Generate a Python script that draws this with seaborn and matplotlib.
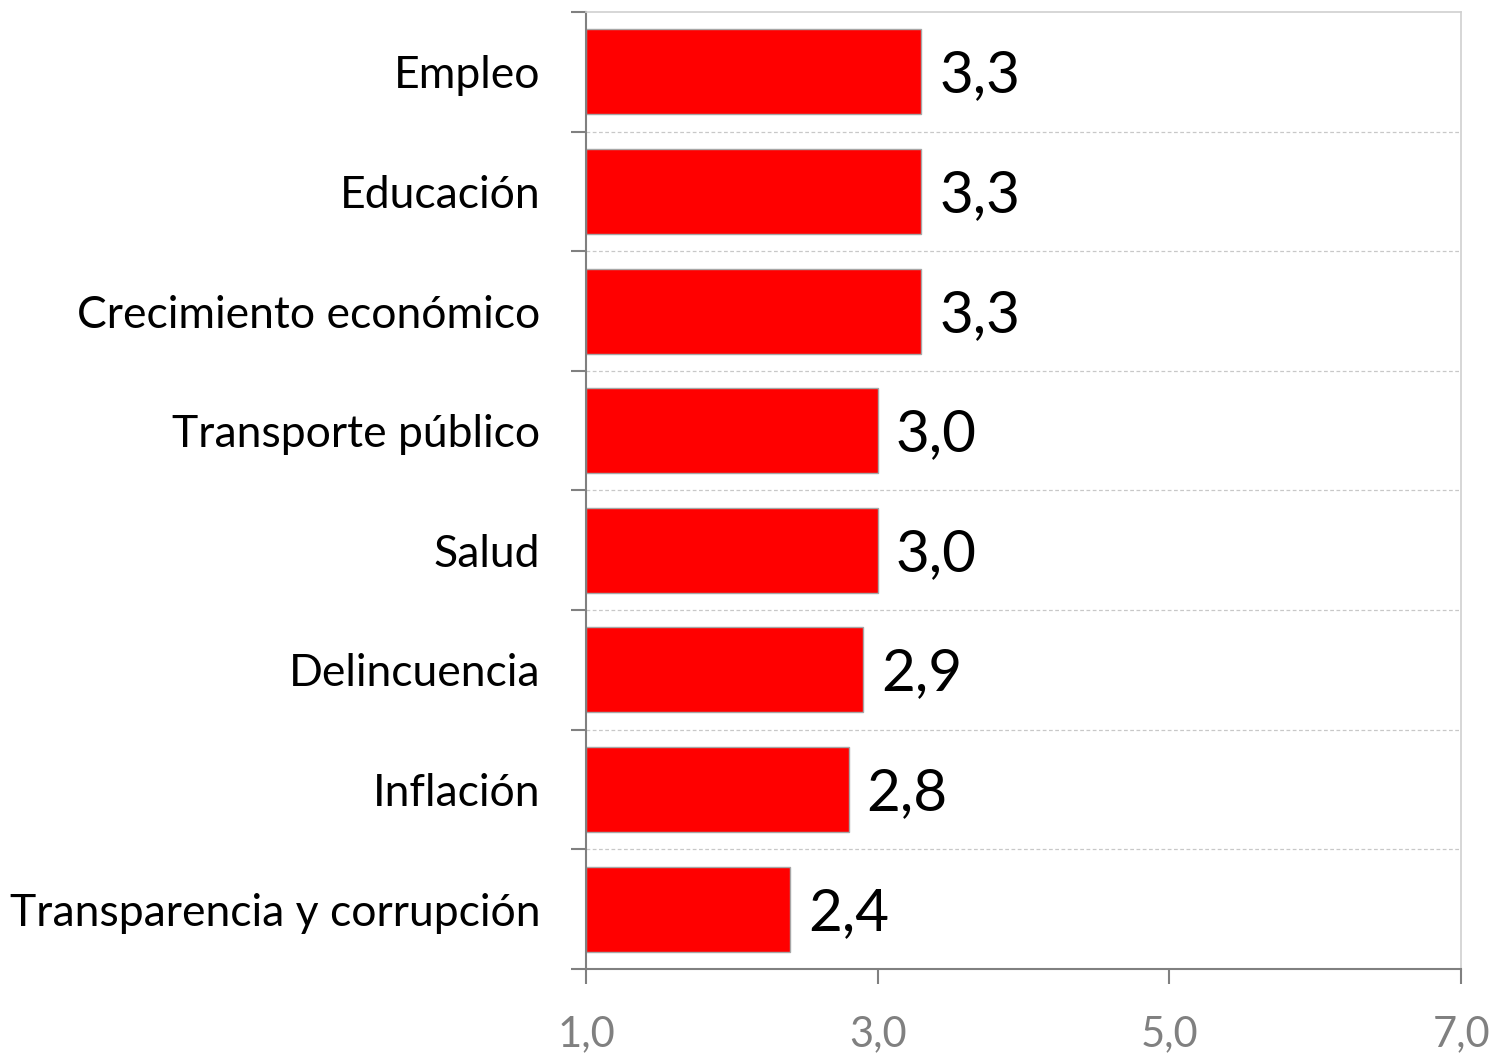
import matplotlib

matplotlib.use("Agg")
import matplotlib.pyplot as plt
import numpy as np
import pandas as pd
import seaborn as sns

categorias = ["Empleo", "Educación", "Crecimiento económico", "Transporte público",
              "Salud", "Delincuencia", "Inflación", "Transparencia y corrupción"]
valores = [3.3, 3.3, 3.3, 3.0, 3.0, 2.9, 2.8, 2.4]
base = 1.0
xticks = [1, 3, 5, 7]

sns.set_theme(style="white")
plt.rcParams["font.family"] = ["Lato", "DejaVu Sans"]

df = pd.DataFrame({"tema": categorias, "valor": np.array(valores) - base})

fig = plt.figure(figsize=(14.95, 10.53), dpi=100)
ax = fig.add_axes([0.392, 0.0798, 0.5853, 0.9088])

sns.barplot(data=df, x="valor", y="tema", ax=ax, color="#ff0000", saturation=1,
            width=0.71, left=base, edgecolor="#a6a6a6", linewidth=1)

labels = [f"{v:.1f}".replace(".", ",") for v in valores]
anns = ax.bar_label(ax.containers[0], labels=labels, padding=13, fontsize=42, color="black")
for a in anns:
    a.xyann = (13, -3)

ax.set_xlim(1, 7)
ax.set_ylim(len(categorias) - 0.5, -0.5)
ax.set_xticks(xticks)
ax.set_xticklabels([f"{t:.1f}".replace(".", ",") for t in xticks])
ax.set_xlabel("")
ax.set_ylabel("")

bounds = np.arange(-0.5, len(categorias), 1.0)
ax.set_yticks(bounds, minor=True)
ax.tick_params(axis="y", which="major", length=0, pad=33, labelsize=32, labelcolor="black")
ax.tick_params(axis="y", which="minor", left=True, length=11, width=1.5, color="#808080")
ax.tick_params(axis="x", which="major", bottom=True, length=11, width=1.5, color="#808080",
               pad=22, labelsize=30, labelcolor="#808080")
for b in bounds[1:-1]:
    ax.axhline(b, color="#c8c8c8", linestyle=(0, (3, 2)), linewidth=0.9, zorder=0)

for side in ["left", "bottom"]:
    ax.spines[side].set_color("#808080")
    ax.spines[side].set_linewidth(1.5)
for side in ["top", "right"]:
    ax.spines[side].set_color("#d0d0d0")
    ax.spines[side].set_linewidth(1.2)
    ax.spines[side].set_visible(True)

fig.savefig("out.png", dpi=100)
